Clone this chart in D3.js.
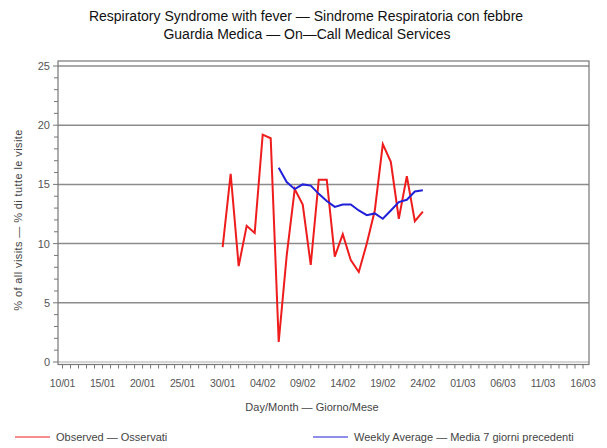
<!DOCTYPE html>
<html><head><meta charset="utf-8">
<script src="https://cdn.jsdelivr.net/npm/d3@7"></script>
<style>body{margin:0;background:#fff}svg{display:block}text{font-family:"Liberation Sans",Arial,sans-serif}</style>
</head><body><div id="c"></div>
<script>
const title1 = "Respiratory Syndrome with fever \u2014 Sindrome Respiratoria con febbre";
const title2 = "Guardia Medica \u2014 On\u2014Call Medical Services";
const yLabel = "% of all visits \u2014 % di tutte le visite";
const xLabel = "Day/Month \u2014 Giorno/Mese";
const legendLabels = ["Observed \u2014 Osservati", "Weekly Average \u2014 Media 7 giorni precedenti"];
const xTickLabels = ["10/01","15/01","20/01","25/01","30/01","04/02","09/02","14/02","19/02","24/02","01/03","06/03","11/03","16/03"];
const yTicks = [0,5,10,15,20,25];
const observedDates = ["30/01","31/01","01/02","02/02","03/02","04/02","05/02","06/02","07/02","08/02","09/02","10/02","11/02","12/02","13/02","14/02","15/02","16/02","17/02","18/02","19/02","20/02","21/02","22/02","23/02","24/02"];
const observed = [9.7,15.9,8.1,11.5,10.9,19.2,18.9,1.7,9.0,14.6,13.3,8.2,15.4,15.4,8.9,10.8,8.6,7.6,10.0,12.8,18.4,16.9,12.1,15.7,11.9,12.7];
const averageDates = ["06/02","07/02","08/02","09/02","10/02","11/02","12/02","13/02","14/02","15/02","16/02","17/02","18/02","19/02","20/02","21/02","22/02","23/02","24/02"];
const average = [16.4,15.2,14.6,15.0,14.9,14.2,13.6,13.1,13.3,13.3,12.8,12.4,12.55,12.1,12.8,13.5,13.7,14.4,14.5];

const parse = s => { const [d,m] = s.split("/").map(Number); return new Date(Date.UTC(2003, m-1, d)); };
const W = 607, H = 448;
const svg = d3.select("#c").append("svg").attr("width", W).attr("height", H);

const x = d3.scaleUtc().domain([parse("10/01"), parse("16/03")]).range([62.5, 583]);
const y = d3.scaleLinear().domain([0,25]).range([362, 66]);
const fL = 58, fR = 589, fT = 61, fB = 364.5;

// gridlines
svg.append("g").selectAll("line").data(yTicks.filter(v=>v>0)).join("line")
  .attr("x1", fL).attr("x2", fR).attr("y1", d=>y(d)).attr("y2", d=>y(d))
  .attr("stroke", "#8c8c8c").attr("stroke-width", 1.5);
svg.append("line").attr("x1", fL).attr("x2", fR).attr("y1", y(0)).attr("y2", y(0))
  .attr("stroke", "#aaa").attr("stroke-width", 1);

// frame
svg.append("rect").attr("x", fL).attr("y", fT).attr("width", fR-fL).attr("height", fB-fT)
  .attr("fill", "none").attr("stroke", "#777").attr("stroke-width", 1.2);

// y axis ticks
const yMinor = d3.range(0, 26, 1);
svg.append("g").selectAll("line").data(yMinor).join("line")
  .attr("x1", d => yTicks.includes(d) ? fL-5 : fL-4).attr("x2", fL)
  .attr("y1", d=>y(d)).attr("y2", d=>y(d)).attr("stroke", "#777").attr("stroke-width", 1);
svg.append("g").selectAll("text").data(yTicks).join("text")
  .attr("x", fL-8).attr("y", d=>y(d)+4).attr("text-anchor","end")
  .attr("font-size", 11).attr("fill", "#555").text(d=>d);

// x axis ticks
const days = d3.utcDay.range(parse("10/01"), d3.utcDay.offset(parse("16/03"),1));
svg.append("g").selectAll("line").data(days).join("line")
  .attr("x1", d=>x(d)).attr("x2", d=>x(d)).attr("y1", fB).attr("y2", fB+4)
  .attr("stroke", "#777").attr("stroke-width", 1);
svg.append("g").selectAll("text").data(xTickLabels).join("text")
  .attr("x", d=>x(parse(d))).attr("y", 387).attr("text-anchor","middle")
  .attr("font-size", 10.5).attr("fill", "#555").attr("letter-spacing", -0.2).text(d=>d);

// titles
svg.append("text").attr("x", 306).attr("y", 21).attr("text-anchor","middle").attr("font-size", 14).attr("fill","#111").text(title1);
svg.append("text").attr("x", 307).attr("y", 39).attr("text-anchor","middle").attr("font-size", 14).attr("fill","#111").text(title2);
svg.append("text").attr("transform","translate(22,220) rotate(-90)").attr("text-anchor","middle").attr("font-size", 11).attr("letter-spacing", 0.4).attr("fill","#444").text(yLabel);
svg.append("text").attr("x", 312).attr("y", 411).attr("text-anchor","middle").attr("font-size", 11).attr("fill","#444").text(xLabel);

// lines
const line = d3.line().x(d=>x(d[0])).y(d=>y(d[1]));
svg.append("path").datum(observedDates.map((d,i)=>[parse(d), observed[i]]))
  .attr("d", line).attr("fill","none").attr("stroke","#ee1c1c").attr("stroke-width", 2).attr("stroke-linejoin","miter");
svg.append("path").datum(averageDates.map((d,i)=>[parse(d), average[i]]))
  .attr("d", line).attr("fill","none").attr("stroke","#2020d8").attr("stroke-width", 2);

// legend
const lg = svg.append("g");
lg.append("line").attr("x1",15).attr("x2",50).attr("y1",437).attr("y2",437).attr("stroke","#ee1c1c").attr("stroke-width",1.2);
lg.append("text").attr("x",56).attr("y",441).attr("font-size",11).attr("fill","#444").text(legendLabels[0]);
lg.append("line").attr("x1",313).attr("x2",348).attr("y1",437).attr("y2",437).attr("stroke","#2020d8").attr("stroke-width",1.2);
lg.append("text").attr("x",354).attr("y",441).attr("font-size",11).attr("fill","#444").text(legendLabels[1]);
</script></body></html>
